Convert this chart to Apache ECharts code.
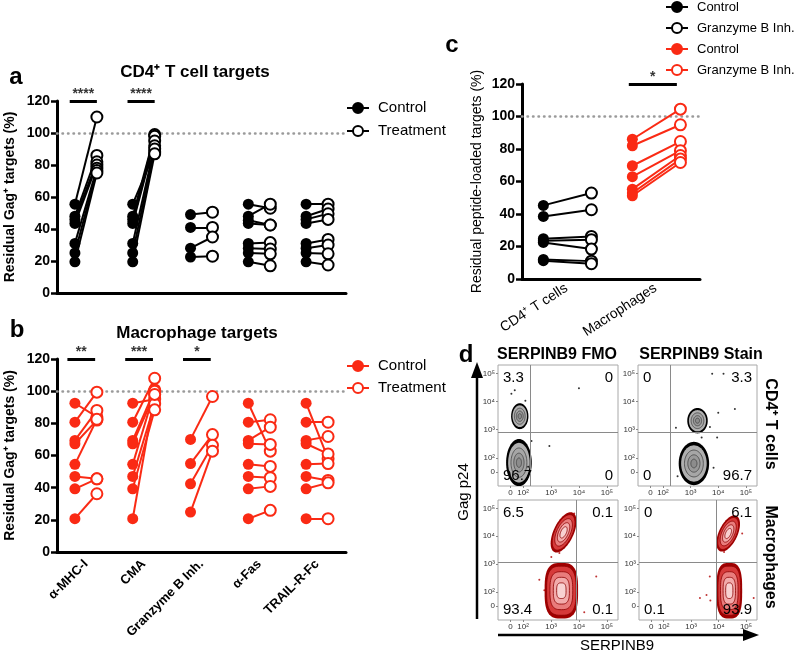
<!DOCTYPE html>
<html>
<head>
<meta charset="utf-8">
<script src="https://cdn.jsdelivr.net/npm/echarts@6/dist/echarts.min.js"></script>
<style>
  html, body { margin: 0; padding: 0; background: #fff; }
  #chart { width: 800px; height: 655px; }
</style>
</head>
<body>
<div id="chart"></div>
<script>
const FONT = '"Liberation Sans", Arial, Helvetica, sans-serif';
const BLACK = '#000';
const RED = '#fa2a14';

// a / b : killing assays, one list of paired donors per category
const killCategories = ['α-MHC-I', 'CMA', 'Granzyme B Inh.', 'α-Fas', 'TRAIL-R-Fc'];

const cd4Control = [
  [55.5, 48, 46, 43.5, 31, 25, 19.5],
  [55.5, 48, 46, 43.5, 31, 25, 19.5],
  [49, 41, 28, 22.5],
  [55.5, 48, 45.5, 43.5, 31, 28, 25, 19.5],
  [55.5, 48, 46, 43.5, 31, 28, 25, 19.5]
];
const cd4Treatment = [
  [110, 86, 82, 80, 78, 76.5, 75],
  [88, 99, 98, 95, 92, 90, 87],
  [50.5, 41, 35, 23],
  [53, 55.5, 42.5, 42.5, 31.5, 27.5, 24.5, 17],
  [55.5, 52.5, 49.5, 46, 33.5, 30, 24.5, 17.5]
];
const cd4Stars = ['****', '****', '', '', ''];

const macControl = [
  [92.5, 80.7, 69.4, 67.3, 54.5, 47, 39.3, 20.7],
  [92.5, 80.7, 69.4, 67.3, 54.5, 47, 39.3, 20.7],
  [70, 55, 42.4, 24.8],
  [92.5, 80.7, 69.4, 67.3, 54.5, 47, 39.3, 20.7],
  [92.5, 80.7, 69.4, 67.3, 54.5, 47, 39.3, 20.7]
];
const macTreatment = [
  [84, 99.4, 88, 82, 82.5, 45.5, 45.5, 36.2],
  [95, 108, 100.8, 98.3, 100, 92, 88.4, 98],
  [96.7, 73, 66.3, 62.7],
  [62.7, 82.2, 77.6, 66.9, 53.2, 46.2, 40.8, 25.9],
  [58, 80.7, 71.8, 61, 55, 44.5, 43, 20.7]
];
const macStars = ['**', '***', '*', '', ''];

// c : peptide-loaded targets
const pepCategories = ['CD4⁺ T cells', 'Macrophages'];
const pepControl = [
  [45.3, 38.5, 24.8, 23.5, 22.5, 12, 11.3],
  [86, 82, 69.7, 63, 55.3, 52.9, 51.2]
];
const pepTreatment = [
  [52.9, 42.6, 26.2, 24.2, 18.4, 11, 9.4],
  [104.5, 94.9, 84.6, 79, 76, 73.8, 71.7]
];
const pepStars = ['', '*'];

// d : flow plots, log-decade units (cx, cy, rx, ry, tilt deg, roundness)
const flowTickValues = [1.55, 2, 3, 4, 5];
const flowYTickValues = [1.5, 2, 3, 4, 5];
const flowTickLabels = ['0', '10²', '10³', '10⁴', '10⁵'];

const cd4FmoPops = [[1.88, 3.48, 0.31, 0.46, 0, 2], [1.85, 1.83, 0.46, 0.84, 0, 2]];
const cd4StainPops = [[3.25, 3.32, 0.37, 0.45, 0, 2], [3.12, 1.80, 0.55, 0.77, 0, 2]];
const macFmoPops = [[3.45, 4.14, 0.36, 0.78, -25, 2], [3.37, 2.05, 0.60, 1.0, 0, 3]];
const macStainPops = [[4.35, 4.10, 0.34, 0.70, -25, 2], [4.39, 2.05, 0.47, 1.0, 0, 3]];

const cd4FmoDots = [[1.58, 4.28], [2.08, 4.03], [4.0, 4.47], [2.94, 2.42], [2.3, 2.6], [2.18, 1.68], [1.7, 4.4]];
const cd4StainDots = [[3.78, 4.99], [4.19, 4.99], [4.6, 3.74], [4.0, 3.6], [2.47, 3.07], [3.83, 1.65], [2.53, 1.35], [3.96, 2.72], [3.4, 2.72], [3.7, 3.1]];
const macFmoDots = [[4.62, 2.56], [2.58, 2.44], [4.19, 1.28], [3.83, 4.82], [2.76, 2.07], [3.01, 3.26], [3.3, 3.4]];
const macStainDots = [[3.68, 2.56], [3.32, 1.79], [3.56, 1.9], [3.7, 1.7], [5.28, 1.79], [4.81, 2.44], [4.2, 3.44], [4.86, 4.1]];

const flowGates = [[2.27, 2.9], [2.27, 2.9], [3.9, 3.08], [3.9, 3.08]];
const flowQuadrants = [
  ['3.3', '0', '96.7', '0'],
  ['0', '3.3', '0', '96.7'],
  ['6.5', '0.1', '93.4', '0.1'],
  ['0', '6.1', '0.1', '93.9']
];

const grayLevels = [
  { s: 1.0, fill: '#000' },
  { s: 0.84, fill: '#b0b0b0' },
  { s: 0.62, fill: '#a6a6a6', stroke: '#444' },
  { s: 0.40, fill: '#999', stroke: '#444' },
  { s: 0.20, fill: '#8c8c8c', stroke: '#444' }
];
const redLevels = [
  { s: 1.0, fill: '#a00000' },
  { s: 0.88, fill: '#d63a3a', stroke: '#8a0000' },
  { s: 0.68, fill: '#e97c7c', stroke: '#8a0000' },
  { s: 0.48, fill: '#f2abab', stroke: '#8a0000' },
  { s: 0.28, fill: '#f8d2d2', stroke: '#8a0000' }
];

const flowRects = [
  { left: 498, top: 365, width: 120, height: 121 },
  { left: 638, top: 365, width: 119, height: 121 },
  { left: 498, top: 500, width: 120, height: 120 },
  { left: 639, top: 500, width: 118, height: 120 }
];

function killYAxis(gridIndex, name, weight, gap) {
  return {
    type: 'value', gridIndex, min: 0, max: 120, interval: 20,
    name, nameLocation: 'middle', nameGap: gap,
    nameTextStyle: { fontWeight: weight, fontSize: 14, color: BLACK, fontFamily: FONT },
    axisLine: { show: true, lineStyle: { color: BLACK, width: 3 } },
    axisTick: { show: true, length: 6, lineStyle: { color: BLACK, width: 2.5 } },
    axisLabel: { fontWeight: 'bold', fontSize: 14, color: BLACK, margin: 7, fontFamily: FONT },
    splitLine: { show: false }
  };
}

function pairSeries(xIdx, yIdx, controls, treatments, start, color, offC, offT, names) {
  const lineData = [], ctrlData = [], trtData = [];
  controls.forEach((vals, j) => {
    const i = start + j;
    vals.forEach((v, k) => {
      const x0 = i + 0.5 + offC, x1 = i + 0.5 + offT;
      lineData.push({ coords: [[x0, v], [x1, treatments[j][k]]] });
      ctrlData.push([x0, v]);
      trtData.push([x1, treatments[j][k]]);
    });
  });
  return [
    {
      type: 'lines', coordinateSystem: 'cartesian2d', xAxisIndex: xIdx, yAxisIndex: yIdx,
      silent: true, z: 2, lineStyle: { color, width: 2, opacity: 1 }, data: lineData
    },
    {
      type: 'scatter', name: names[0], xAxisIndex: xIdx, yAxisIndex: yIdx, z: 3,
      symbol: 'circle', symbolSize: 11, itemStyle: { color, opacity: 1 }, data: ctrlData
    },
    {
      type: 'scatter', name: names[1], xAxisIndex: xIdx, yAxisIndex: yIdx, z: 4,
      symbol: 'circle', symbolSize: 11,
      itemStyle: { color: '#fff', borderColor: color, borderWidth: 2, opacity: 1 }, data: trtData
    }
  ];
}

function refLine(xIdx, yIdx, xmax) {
  return {
    type: 'lines', coordinateSystem: 'cartesian2d', xAxisIndex: xIdx, yAxisIndex: yIdx,
    silent: true, z: 1,
    lineStyle: { color: '#9a9a9a', width: 2.5, type: [0.5, 5], cap: 'round', opacity: 1 },
    data: [{ coords: [[0, 100], [xmax, 100]] }]
  };
}

function sigSeries(xIdx, yIdx, stars, offL, offR) {
  const bars = [], marks = [];
  stars.forEach((s, i) => {
    if (!s) return;
    bars.push({ coords: [[i + 0.5 + offL, 120], [i + 0.5 + offR, 120]] });
    marks.push({ value: [i + 0.5 + (offL + offR) / 2, 120], label: { formatter: s } });
  });
  return [
    {
      type: 'lines', coordinateSystem: 'cartesian2d', xAxisIndex: xIdx, yAxisIndex: yIdx,
      silent: true, z: 2, lineStyle: { color: BLACK, width: 3, opacity: 1 }, data: bars
    },
    {
      type: 'scatter', xAxisIndex: xIdx, yAxisIndex: yIdx, symbolSize: 0, silent: true,
      label: { show: true, position: 'top', distance: 0, color: BLACK, fontSize: 14, fontWeight: 'bold', fontFamily: FONT },
      data: marks
    }
  ];
}

function renderPop(levels) {
  return function (params, api) {
    const c = api.coord([api.value(0), api.value(1)]);
    const s = api.size([api.value(2), api.value(3)]);
    const rot = api.value(4) * Math.PI / 180;
    const n = api.value(5);
    const children = levels.map(lv => {
      const pts = [];
      for (let k = 0; k < 64; k++) {
        const t = k / 64 * Math.PI * 2;
        const ct = Math.cos(t), st = Math.sin(t);
        const ex = Math.sign(ct) * Math.pow(Math.abs(ct), 2 / n) * s[0] * lv.s;
        const ey = Math.sign(st) * Math.pow(Math.abs(st), 2 / n) * s[1] * lv.s;
        pts.push([c[0] + ex * Math.cos(rot) + ey * Math.sin(rot), c[1] - ex * Math.sin(rot) + ey * Math.cos(rot)]);
      }
      return {
        type: 'polygon', shape: { points: pts },
        style: { fill: lv.fill, stroke: lv.stroke || null, lineWidth: 0.8 }
      };
    });
    return { type: 'group', children };
  };
}

const chart = echarts.init(document.getElementById('chart'));

const grids = [
  { left: 57, top: 101, width: 289, height: 192 },
  { left: 57, top: 359, width: 289, height: 193 },
  { left: 522, top: 84, width: 178, height: 195 }
].concat(flowRects.map(r => Object.assign({ show: true, borderColor: '#a8a8a8', borderWidth: 1 }, r)));

const xAxes = [
  // a
  {
    type: 'category', gridIndex: 0, data: killCategories, boundaryGap: true,
    axisLine: { lineStyle: { color: BLACK, width: 3 } },
    axisTick: { alignWithLabel: true, length: 6, lineStyle: { color: BLACK, width: 2.5 } },
    axisLabel: { show: false }
  },
  { type: 'value', gridIndex: 0, min: 0, max: 5, show: false },
  // b
  {
    type: 'category', gridIndex: 1, data: killCategories, boundaryGap: true,
    axisLine: { lineStyle: { color: BLACK, width: 3 } },
    axisTick: { alignWithLabel: true, length: 6, lineStyle: { color: BLACK, width: 2.5 } },
    axisLabel: { rotate: 45, margin: 10, color: BLACK, fontSize: 13, fontWeight: 'bold', fontFamily: FONT, interval: 0 }
  },
  { type: 'value', gridIndex: 1, min: 0, max: 5, show: false },
  // c
  {
    type: 'category', gridIndex: 2, data: pepCategories, boundaryGap: true,
    axisLine: { lineStyle: { color: BLACK, width: 3 } },
    axisTick: { show: false },
    axisLabel: { rotate: 33, margin: 8, color: BLACK, fontSize: 14, fontFamily: FONT, interval: 0 }
  },
  { type: 'value', gridIndex: 2, min: 0, max: 2, show: false }
];
const yAxes = [
  killYAxis(0, 'Residual Gag⁺ targets (%)', 'bold', 40),
  killYAxis(1, 'Residual Gag⁺ targets (%)', 'bold', 40),
  killYAxis(2, 'Residual peptide-loaded targets (%)', 'normal', 38)
];

flowRects.forEach((r, g) => {
  const common = {
    type: 'value', gridIndex: 3 + g, splitLine: { show: false },
    axisLine: { show: false },
    axisLabel: { color: '#333', fontSize: 8, margin: 3, fontFamily: FONT },
    axisTick: { show: true, length: 2, lineStyle: { color: '#888' } }
  };
  xAxes.push(Object.assign({}, common, {
    min: 1.1, max: 5.4,
    axisTick: Object.assign({}, common.axisTick, { customValues: flowTickValues }),
    axisLabel: Object.assign({}, common.axisLabel, {
      customValues: flowTickValues,
      formatter: v => flowTickLabels[flowTickValues.indexOf(v)]
    })
  }));
  yAxes.push(Object.assign({}, common, {
    min: 1.0, max: 5.3,
    axisTick: Object.assign({}, common.axisTick, { customValues: flowYTickValues }),
    axisLabel: Object.assign({}, common.axisLabel, {
      customValues: flowYTickValues,
      formatter: v => flowTickLabels[flowYTickValues.indexOf(v)]
    })
  }));
});

let series = [];
// a
series.push(refLine(1, 0, 5));
series = series.concat(pairSeries(1, 0, cd4Control, cd4Treatment, 0, BLACK, -0.19, 0.19, ['Control', 'Treatment']));
series = series.concat(sigSeries(1, 0, cd4Stars, -0.28, 0.19));
// b
series.push(refLine(3, 1, 5));
series = series.concat(pairSeries(3, 1, macControl, macTreatment, 0, RED, -0.19, 0.19, ['Control', 'Treatment']));
series = series.concat(sigSeries(3, 1, macStars, -0.32, 0.16));
// c
series.push(refLine(5, 2, 2));
series = series.concat(pairSeries(5, 2, [pepControl[0]], [pepTreatment[0]], 0, BLACK, -0.26, 0.28, ['Control', 'Granzyme B Inh.']));
series = series.concat(pairSeries(5, 2, [pepControl[1]], [pepTreatment[1]], 1, RED, -0.26, 0.28, ['Control ', 'Granzyme B Inh. ']));
series = series.concat(sigSeries(5, 2, pepStars, -0.3, 0.24));
// d
const flowPops = [cd4FmoPops, cd4StainPops, macFmoPops, macStainPops];
const flowDots = [cd4FmoDots, cd4StainDots, macFmoDots, macStainDots];
flowPops.forEach((pops, g) => {
  const idx = 6 + g, yIdx = 3 + g;
  const red = g >= 2;
  series.push({
    type: 'custom', xAxisIndex: idx, yAxisIndex: yIdx, clip: true, silent: true,
    renderItem: renderPop(red ? redLevels : grayLevels), data: pops
  });
  series.push({
    type: 'scatter', xAxisIndex: idx, yAxisIndex: yIdx, symbolSize: 2, silent: true,
    itemStyle: { color: red ? '#b00000' : '#000' }, data: flowDots[g]
  });
  const gx = flowGates[g][0], gy = flowGates[g][1];
  series.push({
    type: 'lines', coordinateSystem: 'cartesian2d', xAxisIndex: idx, yAxisIndex: yIdx,
    silent: true, z: 5, lineStyle: { color: '#8a8a8a', width: 1, opacity: 1 },
    data: [{ coords: [[gx, 1.0], [gx, 5.3]] }, { coords: [[1.1, gy], [5.4, gy]] }]
  });
});

function txt(x, y, text, size, opts) {
  return Object.assign({
    type: 'text', x, y, z: 100,
    style: Object.assign({
      text, fill: BLACK, fontSize: size, fontFamily: FONT,
      textAlign: 'center', textVerticalAlign: 'middle'
    }, (opts && opts.style) || {})
  }, (opts && opts.el) || {});
}
function legendItem(x, y, color, filled, text, size) {
  return {
    type: 'group', children: [
      { type: 'line', shape: { x1: x - 11, y1: y, x2: x + 11, y2: y }, style: { stroke: color, lineWidth: 2 } },
      { type: 'circle', shape: { cx: x, cy: y, r: 5 }, style: { fill: filled ? color : '#fff', stroke: color, lineWidth: 2 } },
      txt(x + 20, y, text, size, { style: { textAlign: 'left' } })
    ]
  };
}

const graphic = [
  txt(16, 77, 'a', 24, { style: { fontWeight: 'bold' } }),
  txt(195, 72, 'CD4⁺ T cell targets', 17, { style: { fontWeight: 'bold' } }),
  txt(17, 330, 'b', 24, { style: { fontWeight: 'bold' } }),
  txt(197, 333, 'Macrophage targets', 17, { style: { fontWeight: 'bold' } }),
  txt(452, 45, 'c', 24, { style: { fontWeight: 'bold' } }),
  txt(466, 355, 'd', 24, { style: { fontWeight: 'bold' } }),
  legendItem(358, 108, BLACK, true, 'Control', 15),
  legendItem(358, 131, BLACK, false, 'Treatment', 15),
  legendItem(358, 366, RED, true, 'Control', 15),
  legendItem(358, 388, RED, false, 'Treatment', 15),
  legendItem(677, 7, BLACK, true, 'Control', 13),
  legendItem(677, 28, BLACK, false, 'Granzyme B Inh.', 13),
  legendItem(677, 49, RED, true, 'Control', 13),
  legendItem(677, 70, RED, false, 'Granzyme B Inh.', 13),
  txt(557, 355, 'SERPINB9 FMO', 16, { style: { fontWeight: 'bold' } }),
  txt(701, 355, 'SERPINB9 Stain', 16, { style: { fontWeight: 'bold' } }),
  txt(770, 424, 'CD4⁺ T cells', 16, { style: { fontWeight: 'bold' }, el: { rotation: -Math.PI / 2 } }),
  txt(770, 557, 'Macrophages', 16, { style: { fontWeight: 'bold' }, el: { rotation: -Math.PI / 2 } }),
  txt(464, 492, 'Gag p24', 15, { el: { rotation: Math.PI / 2 } }),
  txt(617, 646, 'SERPINB9', 15),
  { type: 'line', shape: { x1: 477, y1: 619, x2: 477, y2: 374 }, style: { stroke: BLACK, lineWidth: 2.5 } },
  { type: 'polygon', shape: { points: [[471, 378], [483, 378], [477, 362]] }, style: { fill: BLACK } },
  { type: 'line', shape: { x1: 498, y1: 635, x2: 746, y2: 635 }, style: { stroke: BLACK, lineWidth: 2.5 } },
  { type: 'polygon', shape: { points: [[743, 629], [743, 641], [759, 635]] }, style: { fill: BLACK } }
];

flowRects.forEach((r, g) => {
  const q = flowQuadrants[g];
  const right = r.left + r.width, bottom = r.top + r.height;
  graphic.push(txt(r.left + 5, r.top + 13, q[0], 15, { style: { textAlign: 'left' } }));
  graphic.push(txt(right - 5, r.top + 13, q[1], 15, { style: { textAlign: 'right' } }));
  graphic.push(txt(r.left + 5, bottom - 10, q[2], 15, { style: { textAlign: 'left' } }));
  graphic.push(txt(right - 5, bottom - 10, q[3], 15, { style: { textAlign: 'right' } }));
});

chart.setOption({
  animation: false,
  textStyle: { fontFamily: FONT },
  grid: grids,
  xAxis: xAxes,
  yAxis: yAxes,
  series,
  graphic
});
</script>
</body>
</html>
